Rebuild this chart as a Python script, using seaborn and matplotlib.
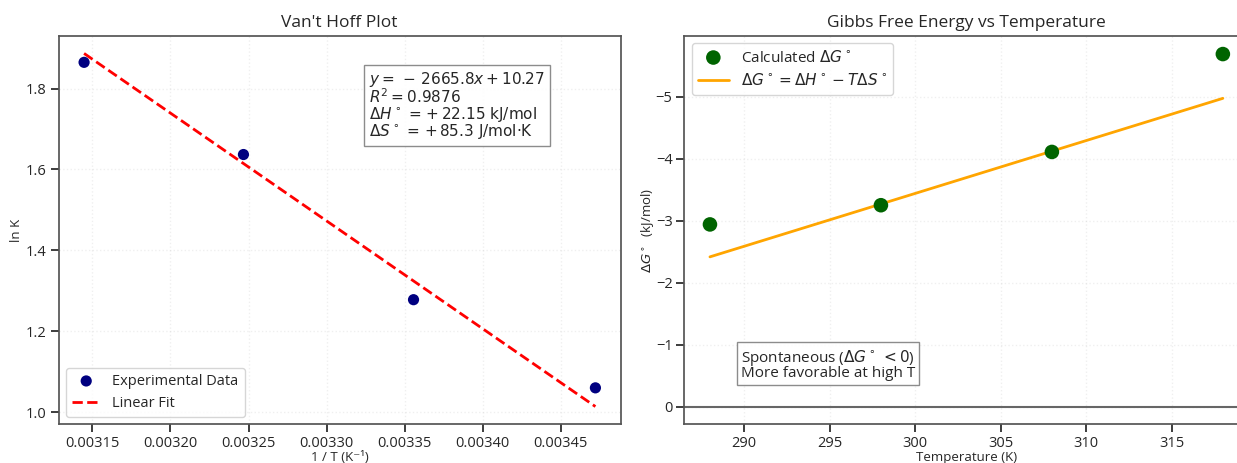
import numpy as np
import pandas as pd
import matplotlib
matplotlib.use("Agg")
import matplotlib.pyplot as plt
import seaborn as sns

# ---- data ----
temperatures = [288, 298, 308, 318]           # K
inv_T = [1 / t for t in temperatures]          # 1/T (K^-1)
lnK = [1.060, 1.278, 1.637, 1.865]
dG_calc = [-2.94, -3.25, -4.11, -5.69]        # kJ/mol

fit_slope = -2665.8
fit_intercept = 10.27
fit_r2 = 0.9876
dH = 22.15    # kJ/mol
dS = 85.3     # J/mol·K

sns.set_theme(style="ticks")
plt.rcParams['font.family'] = ['Open Sans', 'DejaVu Sans']
plt.rcParams['mathtext.fontset'] = 'dejavusans'

fig = plt.figure(figsize=(12.37, 4.63), dpi=100)
ax1 = fig.add_axes([0.0473, 0.0838, 0.4547, 0.8389])
ax2 = fig.add_axes([0.5532, 0.0838, 0.4561, 0.8389])

# ---------- Van't Hoff plot ----------
df1 = pd.DataFrame({"invT": inv_T, "lnK": lnK})
sns.scatterplot(data=df1, x="invT", y="lnK", ax=ax1, color="navy", s=65,
                edgecolor="none", label="Experimental Data", zorder=3)
x_fit = np.array([min(inv_T), max(inv_T)])
df_fit = pd.DataFrame({"invT": x_fit, "lnK_fit": fit_slope * x_fit + fit_intercept})
sns.lineplot(data=df_fit, x="invT", y="lnK_fit", ax=ax1, color="red",
             linestyle="--", linewidth=2, label="Linear Fit")
ax1.set_title("Van't Hoff Plot", fontsize=12.5)
ax1.set_xlabel("1 / T (K⁻¹)", fontsize=9.5, labelpad=0)
ax1.set_ylabel("ln K", fontsize=9.5, labelpad=2)
ax1.tick_params(labelsize=10.5, pad=2.5)
ax1.grid(True, alpha=0.3, linestyle=":")
ax1.legend(loc="lower left", fontsize=10.5, frameon=True)
txt = (f"$y =\\,-\\,{abs(fit_slope)}x + {fit_intercept}$\n"
       f"$R^2 = {fit_r2}$\n"
       f"$\\Delta H^\\circ$ = $+\\,{dH}$ kJ/mol\n"
       f"$\\Delta S^\\circ$ = $+\\,{dS}$ J/mol·K")
ax1.text(0.552, 0.912, txt, transform=ax1.transAxes, va="top", ha="left",
         fontsize=11, family=["DejaVu Sans"], linespacing=0.9,
         bbox=dict(boxstyle="square,pad=0.3", facecolor="white",
                   edgecolor="gray", alpha=0.9))
for sp in ax1.spines.values():
    sp.set_color("#555555")

# ---------- Gibbs free energy ----------
df2 = pd.DataFrame({"T": temperatures, "dG": dG_calc})
sns.scatterplot(data=df2, x="T", y="dG", ax=ax2, color="darkgreen", s=110,
                edgecolor="none", label="Calculated $\\Delta G^\\circ$", zorder=3)
T_line = np.array([min(temperatures), max(temperatures)])
df_line = pd.DataFrame({"T": T_line, "dG_line": dH - T_line * dS / 1000})
sns.lineplot(data=df_line, x="T", y="dG_line", ax=ax2, color="orange",
             linewidth=2,
             label="$\\Delta G^\\circ = \\Delta H^\\circ - T\\Delta S^\\circ$")
ax2.axhline(0, color="#666666", linewidth=1.5, zorder=1)
ax2.set_xlim(286.5, 319.5)
ax2.set_ylim(0.285, -5.985)
ax2.set_title("Gibbs Free Energy vs Temperature", fontsize=12.5)
ax2.set_xlabel("Temperature (K)", fontsize=9.5, labelpad=0)
ax2.set_ylabel("$\\Delta G^\\circ$  (kJ/mol)", fontsize=9.5, labelpad=0)
ax2.tick_params(labelsize=10.5, pad=2.5)
ax2.grid(True, alpha=0.3, linestyle=":")
ax2.legend(loc="upper left", fontsize=11, frameon=True)
ax2.text(0.1, 0.112, "Spontaneous ($\\Delta G^\\circ\\,< 0$)\nMore favorable at high T",
         transform=ax2.transAxes, va="bottom", ha="left", fontsize=11,
         linespacing=0.8,
         bbox=dict(boxstyle="square,pad=0.25", facecolor="white",
                   edgecolor="gray", alpha=0.9))
for sp in ax2.spines.values():
    sp.set_color("#555555")

fig.savefig("out.png", dpi=100)
